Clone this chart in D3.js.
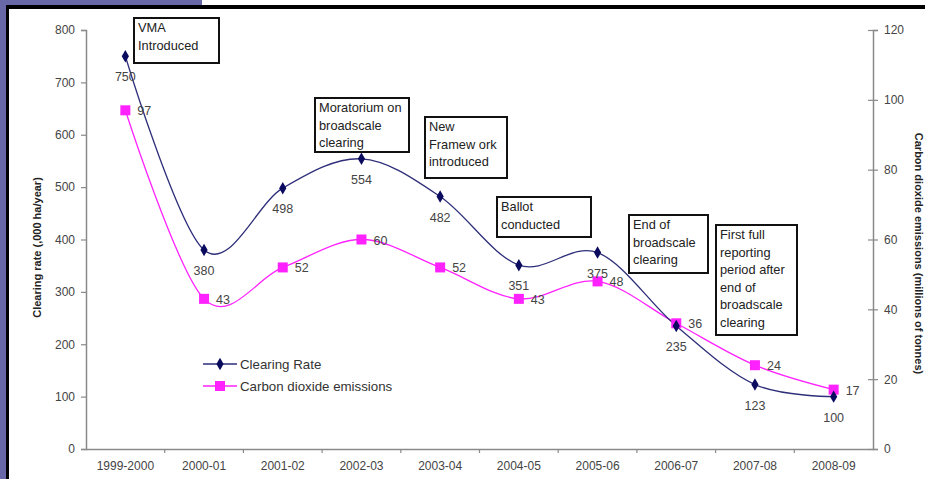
<!DOCTYPE html>
<html>
<head>
<meta charset="utf-8">
<script src="https://cdn.jsdelivr.net/npm/d3@7"></script>
<style>
  body { margin: 0; background: #fff; }
  text { font-family: "Liberation Sans", Arial, sans-serif; }
</style>
</head>
<body>
<script>
const years = ['1999-2000','2000-01','2001-02','2002-03','2003-04','2004-05','2005-06','2006-07','2007-08','2008-09']
const clearingRate = [750, 380, 498, 554, 482, 351, 375, 235, 123, 100]
const co2 = [97, 43, 52, 60, 52, 43, 48, 36, 24, 17]
const leftTicks = [0, 100, 200, 300, 400, 500, 600, 700, 800]
const rightTicks = [0, 20, 40, 60, 80, 100, 120]
const notes = [
  {year: '1999-2000', lines: ['VMA', 'Introduced']},
  {year: '2002-03', lines: ['Moratorium on', 'broadscale', 'clearing']},
  {year: '2003-04', lines: ['New', 'Framew ork', 'introduced']},
  {year: '2004-05', lines: ['Ballot', 'conducted']},
  {year: '2006-07', lines: ['End of', 'broadscale', 'clearing']},
  {year: '2007-08', lines: ['First full', 'reporting', 'period after', 'end of', 'broadscale', 'clearing']}
]
// box placement for each note (x, y, w, h) in page px
const noteBoxes = [[134, 18, 85, 45], [315, 98, 94, 54], [425, 117, 82, 61], [497, 197, 94, 40], [629, 215, 79, 58], [716, 225, 81, 110]]

const W = 925, H = 479
const margin = {top: 30, bottom: 30, left: 86, right: 52}
const width = W - margin.left - margin.right
const height = 449 - margin.top

const svg = d3.select('body').append('svg')
  .attr('width', W)
  .attr('height', H)

// frame decoration
svg.append('rect').attr('x', 0).attr('y', 0).attr('width', 6).attr('height', H).attr('fill', '#6868a8')
svg.append('rect').attr('x', 0).attr('y', 0).attr('width', 202).attr('height', 5).attr('fill', '#6868a8')
svg.append('rect').attr('x', 6).attr('y', 5).attr('width', W - 6).attr('height', 4).attr('fill', '#000')
svg.append('rect').attr('x', 6).attr('y', 5).attr('width', 3).attr('height', H).attr('fill', '#000')

const g = svg.append('g')
  .attr('transform', `translate(${margin.left},${margin.top})`)

const xScale = d3.scaleBand().domain(years).range([0, width])
const yLeft = d3.scaleLinear().domain([0, 800]).range([height, 0])
const yRight = d3.scaleLinear().domain([0, 120]).range([height, 0])
const cx = (d) => xScale(d) + xScale.bandwidth() / 2

const axisColor = '#8a8a8a'
const tickText = '#444'

// left axis
const gl = g.append('g').call(d3.axisLeft(yLeft).tickValues(leftTicks).tickSize(5).tickPadding(6))
// right axis with crossing ticks
const gr = g.append('g').attr('transform', `translate(${width},0)`)
  .call(d3.axisRight(yRight).tickValues(rightTicks).tickSize(5).tickPadding(6))
gr.selectAll('.tick line').attr('x1', -5)
// x axis
const gx = g.append('g').attr('transform', `translate(0,${height})`)
  .call(d3.axisBottom(xScale).tickSize(0).tickPadding(12))
gx.selectAll('.tick').filter((d, i) => i > 0).append('line')
  .attr('x1', -xScale.bandwidth() / 2).attr('x2', -xScale.bandwidth() / 2)
  .attr('y1', 0).attr('y2', 4)

for (const a of [gl, gr, gx]) {
  a.select('.domain').attr('stroke', axisColor).attr('stroke-width', 1.5)
  a.selectAll('.tick line').attr('stroke', axisColor).attr('stroke-width', 1.2)
  a.selectAll('.tick text').attr('fill', tickText).style('font-size', '12px')
    .style('font-family', '"Liberation Sans", Arial, sans-serif')
}

// axis titles
g.append('text')
  .attr('transform', `translate(${-45},${height / 2 + 8}) rotate(-90)`)
  .attr('text-anchor', 'middle')
  .style('font-size', '11px').style('font-weight', 'bold').attr('fill', '#222')
  .text('Clearing rate (,000 ha/year)')
g.append('text')
  .attr('transform', `translate(${width + 42},${height / 2 + 14}) rotate(90)`)
  .attr('text-anchor', 'middle')
  .style('font-size', '11px').style('font-weight', 'bold').attr('fill', '#222')
  .text('Carbon dioxide emissions (millions of tonnes)')

const navy = '#2e2e7a'
const navyMark = '#0a0a5e'
const pink = '#ff22ff'

const lineL = d3.line().x((d, i) => cx(years[i])).y((d) => yLeft(d)).curve(d3.curveCatmullRom.alpha(0))
const lineR = d3.line().x((d, i) => cx(years[i])).y((d) => yRight(d)).curve(d3.curveCatmullRom.alpha(0))

g.append('path').datum(co2).attr('d', lineR)
  .attr('fill', 'none').attr('stroke', pink).attr('stroke-width', 1.3)
g.append('path').datum(clearingRate).attr('d', lineL)
  .attr('fill', 'none').attr('stroke', navy).attr('stroke-width', 1.3)

const diamond = d3.symbol().type(d3.symbolDiamond).size(45)

g.selectAll('.sq').data(co2).join('rect')
  .attr('x', (d, i) => cx(years[i]) - 5).attr('y', (d) => yRight(d) - 5)
  .attr('width', 10).attr('height', 10).attr('fill', pink)
g.selectAll('.dm').data(clearingRate).join('path')
  .attr('d', diamond)
  .attr('transform', (d, i) => `translate(${cx(years[i])},${yLeft(d)})`)
  .attr('fill', navyMark)

// value labels
g.selectAll('.lblL').data(clearingRate).join('text')
  .attr('x', (d, i) => cx(years[i]))
  .attr('y', (d) => yLeft(d) + 25)
  .attr('text-anchor', 'middle')
  .style('font-size', '12.5px').attr('fill', '#444')
  .text((d) => d)
g.selectAll('.lblR').data(co2).join('text')
  .attr('x', (d, i) => cx(years[i]) + 12)
  .attr('y', (d) => yRight(d) + 5)
  .style('font-size', '12.5px').attr('fill', '#444')
  .text((d) => d)

// annotation boxes
notes.forEach((n, k) => {
  const [bx, by, bw, bh] = noteBoxes[k]
  const ng = svg.append('g')
  ng.append('rect').attr('x', bx).attr('y', by).attr('width', bw).attr('height', bh)
    .attr('fill', '#fff').attr('stroke', '#111').attr('stroke-width', 2)
  ng.selectAll('text').data(n.lines).join('text')
    .attr('x', bx + 4).attr('y', (d, i) => by + 14 + i * 17.5)
    .style('font-size', '12.8px').attr('fill', '#222')
    .text((d) => d)
})

// legend
const legend = svg.append('g').attr('transform', 'translate(203,364)')
const legendItems = [
  {name: 'Clearing Rate', color: navy, mark: 'diamond'},
  {name: 'Carbon dioxide emissions', color: pink, mark: 'square'}
]
legendItems.forEach((it, i) => {
  const row = legend.append('g').attr('transform', `translate(0,${i * 22})`)
  row.append('line').attr('x1', 0).attr('x2', 34).attr('y1', 0).attr('y2', 0)
    .attr('stroke', it.color).attr('stroke-width', 1.5)
  if (it.mark === 'diamond') {
    row.append('path').attr('d', diamond).attr('transform', 'translate(17,0)').attr('fill', navyMark)
  } else {
    row.append('rect').attr('x', 12).attr('y', -5).attr('width', 10).attr('height', 10).attr('fill', pink)
  }
  row.append('text').attr('x', 37).attr('y', 4.5)
    .style('font-size', '13.3px').attr('fill', '#333').text(it.name)
})
</script>
</body>
</html>
